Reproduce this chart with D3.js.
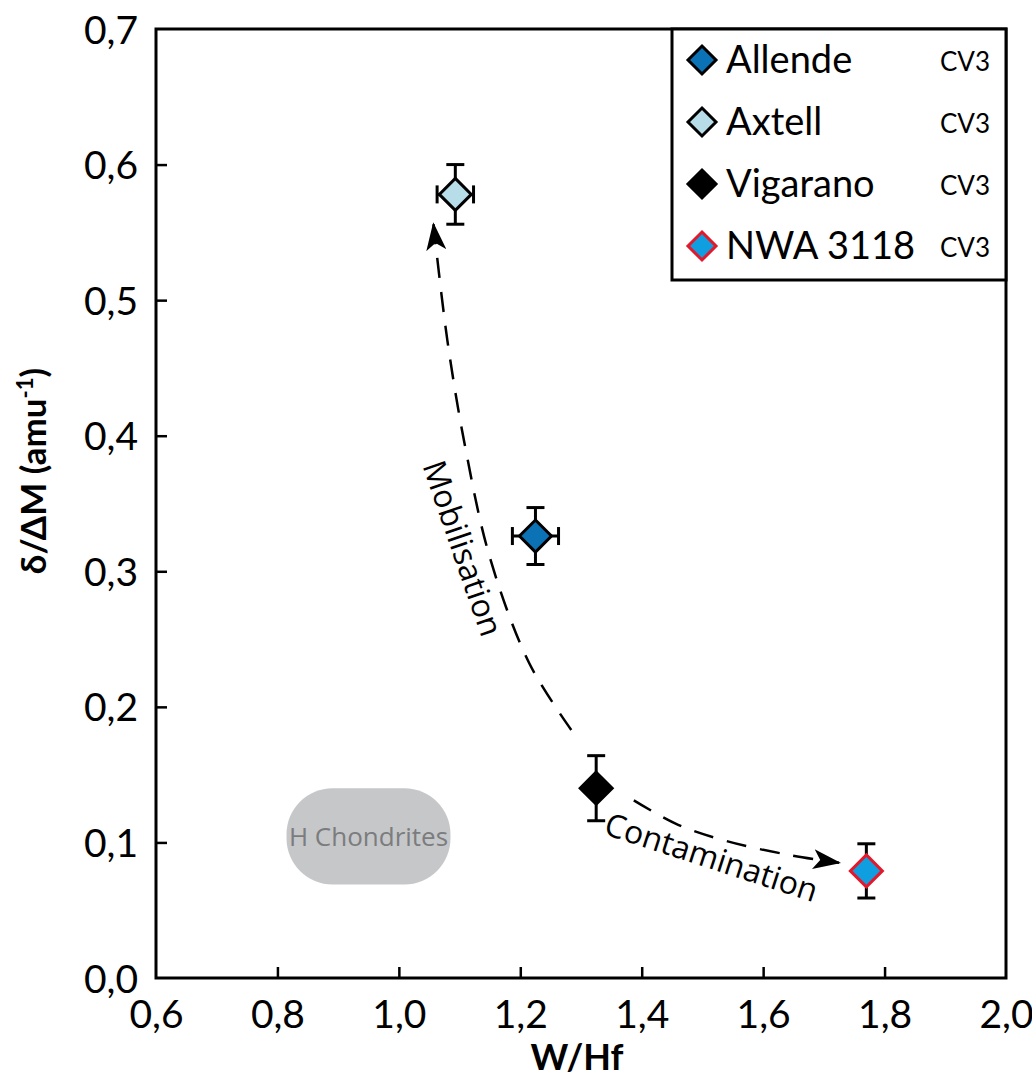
<!DOCTYPE html>
<html><head><meta charset="utf-8">
<script src="https://cdn.jsdelivr.net/npm/d3@7"></script>
<style>body{margin:0;background:#fff}svg{display:block}</style>
</head><body>
<svg id="c" width="1032" height="1078"></svg>
<script>
// ---- data ----
const names = ["Allende","Axtell","Vigarano","NWA 3118"];
const groups = ["CV3","CV3","CV3","CV3"];
const wHf = [1.225, 1.093, 1.325, 1.770];
const wHfErr = [0.038, 0.030, 0, 0];
const delta = [0.326, 0.578, 0.140, 0.079];
const deltaErr = [0.021, 0.022, 0.024, 0.020];
const fills = ["#0b73b5","#b7dde9","#000000","#0f9fe0"];
const strokes = ["#000000","#000000","#000000","#e3192b"];
const xTicks = [0.6,0.8,1.0,1.2,1.4,1.6,1.8,2.0];
const yTicks = [0.0,0.1,0.2,0.3,0.4,0.5,0.6,0.7];
// H chondrite field (W/Hf range, delta range)
const hChondX = [0.815, 1.085];
const hChondY = [0.069, 0.140];
// annotation arrows (W/Hf, delta)
const mobX = [1.284, 1.215, 1.150, 1.110, 1.080, 1.057];
const mobY = [0.183, 0.232, 0.310, 0.390, 0.470, 0.556];
const conX = [1.387, 1.460, 1.540, 1.640, 1.725];
const conY = [0.131, 0.113, 0.101, 0.091, 0.085];

const svg = d3.select("#c");
const x = d3.scaleLinear().domain([0.6,2.0]).range([156,1006]);
const y = d3.scaleLinear().domain([0,0.7]).range([978,29]);
const fmt = d => d.toFixed(1).replace(".",",");
const tickFont = "Lato, 'Open Sans', sans-serif";

svg.append("defs").append("marker")
  .attr("id","arr").attr("viewBox","0 0 28 20").attr("refX",26).attr("refY",10)
  .attr("markerWidth",28).attr("markerHeight",20).attr("markerUnits","userSpaceOnUse")
  .attr("orient","auto")
  .append("path").attr("d","M0,0 L28,10 L0,20 L7,10 Z").attr("fill","#000");

// H chondrites field
svg.append("rect")
  .attr("x", x(hChondX[0])).attr("y", y(hChondY[1]))
  .attr("width", x(hChondX[1]) - x(hChondX[0]))
  .attr("height", y(hChondY[0]) - y(hChondY[1]))
  .attr("rx", 46).attr("ry", 46).attr("fill","#c6c7c9");
svg.append("text")
  .attr("x", (x(hChondX[0])+x(hChondX[1]))/2).attr("y", (y(hChondY[0])+y(hChondY[1]))/2 + 10)
  .attr("text-anchor","middle").attr("font-family","'Open Sans', sans-serif")
  .attr("font-size",26).attr("fill","#7b7c7e").text("H Chondrites");

// axes
const xAxis = d3.axisBottom(x).tickValues(xTicks).tickFormat(fmt).tickSizeInner(-11).tickSizeOuter(0).tickPadding(22);
const yAxis = d3.axisLeft(y).tickValues(yTicks).tickFormat(fmt).tickSizeInner(-11).tickSizeOuter(0).tickPadding(18);
const gx = svg.append("g").attr("transform",`translate(0,${y(0)})`).call(xAxis);
const gy = svg.append("g").attr("transform",`translate(${x(0.6)},0)`).call(yAxis);
[gx,gy].forEach(g=>{
  g.select(".domain").remove();
  g.selectAll(".tick line").attr("stroke","#000").attr("stroke-width",2.5);
  g.selectAll(".tick text").attr("font-family",tickFont).attr("font-size",39).attr("fill","#000");
});
gx.selectAll(".tick text").attr("dy","0.71em");
gx.selectAll(".tick").filter(d=>d===0.6||d===2.0).select("line").remove();
gy.selectAll(".tick").filter(d=>d===0||d===0.7).select("line").remove();
gy.selectAll(".tick text").attr("dy","0.36em");

// frame
svg.append("rect").attr("x",x(0.6)).attr("y",y(0.7))
  .attr("width",x(2.0)-x(0.6)).attr("height",y(0)-y(0.7))
  .attr("fill","none").attr("stroke","#000").attr("stroke-width",3);

// axis titles
svg.append("text").attr("x",(x(0.6)+x(2.0))/2 - 4).attr("y",1070)
  .attr("text-anchor","middle").attr("font-family",tickFont).attr("font-weight","bold")
  .attr("font-size",36).text("W/Hf");
const yl = svg.append("text").attr("transform","translate(46,471) rotate(-90)")
  .attr("text-anchor","middle").attr("font-family",tickFont).attr("font-weight","bold")
  .attr("font-size",35);
yl.append("tspan").text("δ/ΔM (amu");
yl.append("tspan").attr("font-size",22).attr("dy",-13).text("-1");
yl.append("tspan").attr("dy",13).text(")");

// arrows
const line = d3.line().x(d=>x(d[0])).y(d=>y(d[1])).curve(d3.curveCatmullRom);
svg.append("path").datum(d3.zip(mobX,mobY)).attr("d",line)
  .attr("fill","none").attr("stroke","#000").attr("stroke-width",2.5)
  .attr("stroke-dasharray","20,14").attr("marker-end","url(#arr)");
svg.append("path").datum(d3.zip(conX,conY)).attr("d",line)
  .attr("fill","none").attr("stroke","#000").attr("stroke-width",2.5)
  .attr("stroke-dasharray","20,14").attr("marker-end","url(#arr)");

svg.append("text").attr("transform","translate(452,552) rotate(71)")
  .attr("text-anchor","middle").attr("font-family","'Open Sans', sans-serif")
  .attr("font-size",32).text("Mobilisation");
svg.append("text").attr("transform","translate(708,868) rotate(18)")
  .attr("text-anchor","middle").attr("font-family","'Open Sans', sans-serif")
  .attr("font-size",32).text("Contamination");

// error bars
const pts = names.map((n,i)=>({n, x:wHf[i], xe:wHfErr[i], y:delta[i], ye:deltaErr[i], f:fills[i], s:strokes[i]}));
const eb = svg.append("g").attr("stroke","#000").attr("stroke-width",3);
const cap = 9;
pts.forEach(p=>{
  if (p.ye>0){
    eb.append("line").attr("x1",x(p.x)).attr("x2",x(p.x)).attr("y1",y(p.y-p.ye)).attr("y2",y(p.y+p.ye));
    eb.append("line").attr("x1",x(p.x)-cap).attr("x2",x(p.x)+cap).attr("y1",y(p.y+p.ye)).attr("y2",y(p.y+p.ye));
    eb.append("line").attr("x1",x(p.x)-cap).attr("x2",x(p.x)+cap).attr("y1",y(p.y-p.ye)).attr("y2",y(p.y-p.ye));
  }
  if (p.xe>0){
    eb.append("line").attr("y1",y(p.y)).attr("y2",y(p.y)).attr("x1",x(p.x-p.xe)).attr("x2",x(p.x+p.xe));
    eb.append("line").attr("y1",y(p.y)-cap).attr("y2",y(p.y)+cap).attr("x1",x(p.x-p.xe)).attr("x2",x(p.x-p.xe));
    eb.append("line").attr("y1",y(p.y)-cap).attr("y2",y(p.y)+cap).attr("x1",x(p.x+p.xe)).attr("x2",x(p.x+p.xe));
  }
});

// markers
const dia = r => `M0,${-r} L${r},0 L0,${r} L${-r},0 Z`;
svg.append("g").selectAll("path").data(pts).join("path")
  .attr("transform",d=>`translate(${x(d.x)},${y(d.y)})`)
  .attr("d",dia(16)).attr("fill",d=>d.f).attr("stroke",d=>d.s).attr("stroke-width",3)
  .attr("stroke-linejoin","miter");

// legend
const lg = svg.append("g");
lg.append("rect").attr("x",672).attr("y",29).attr("width",334).attr("height",251)
  .attr("fill","#fff").attr("stroke","#000").attr("stroke-width",3);
pts.forEach((p,i)=>{
  const cy = 60 + i*62;
  lg.append("path").attr("transform",`translate(702,${cy})`).attr("d",dia(14))
    .attr("fill",p.f).attr("stroke",p.s).attr("stroke-width",3);
  lg.append("text").attr("x",726).attr("y",cy+13).attr("font-family",tickFont)
    .attr("font-size",38).text(p.n);
  lg.append("text").attr("x",990).attr("y",cy+11).attr("text-anchor","end").attr("font-family",tickFont)
    .attr("font-size",26).text(groups[i]);
});
</script>
</body></html>
